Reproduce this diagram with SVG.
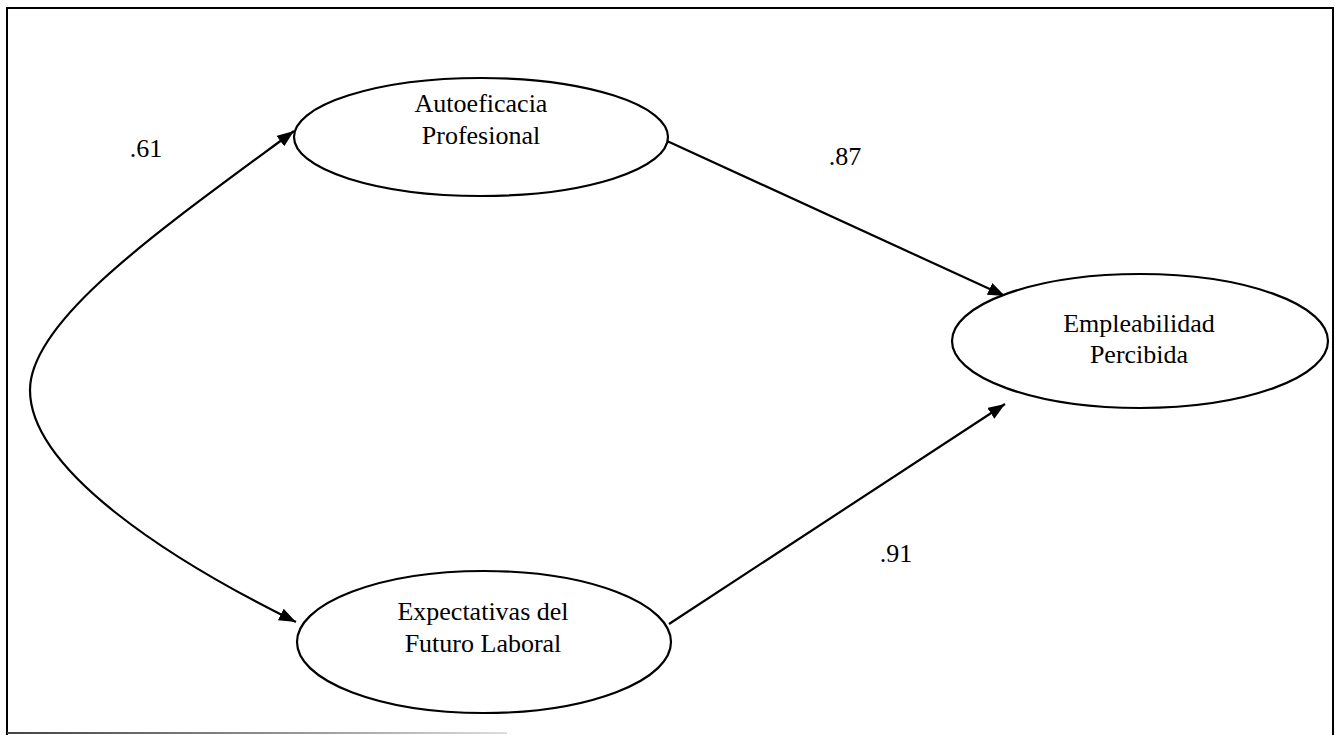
<svg xmlns="http://www.w3.org/2000/svg" width="1335" height="735" viewBox="0 0 1335 735">
<style>
.node ellipse{fill:#fff;stroke:#000;stroke-width:2.2}
.lbl{font-family:'Liberation Serif','Times New Roman',Tinos,'DejaVu Serif',serif;font-size:26px;fill:#000;text-anchor:middle}
.conn{fill:none;stroke:#000;stroke-width:2.2}
.frame{fill:none;stroke:#000;stroke-width:2}
</style>
<defs>
<marker id="ah" viewBox="0 0 17 13" refX="17" refY="6.5" markerWidth="17" markerHeight="13" markerUnits="userSpaceOnUse" orient="auto">
<path d="M0,0 L17,6.5 L0,13 Z" fill="#000"/>
</marker>
<marker id="ahs" viewBox="0 0 17 13" refX="17" refY="6.5" markerWidth="17" markerHeight="13" markerUnits="userSpaceOnUse" orient="auto-start-reverse">
<path d="M0,0 L17,6.5 L0,13 Z" fill="#000"/>
</marker>
<linearGradient id="bg" x1="0" y1="0" x2="1" y2="0">
<stop offset="0" stop-color="#444"/>
<stop offset="0.6" stop-color="#999"/>
<stop offset="1" stop-color="#ddd"/>
</linearGradient>
</defs>
<rect width="1335" height="735" fill="#fff"/>
<g id="frame">
<polyline class="frame" points="7,735 7,8 1333,8 1333,735"/>
<rect x="7" y="732" width="500" height="2" fill="url(#bg)"/>
</g>
<g id="connectors">
<line class="conn" x1="667" y1="141" x2="1005" y2="296" marker-end="url(#ah)"/>
<line class="conn" x1="669" y1="624" x2="1005" y2="404" marker-end="url(#ah)"/>
<path class="conn" d="M294,131 C160,230 30,320 30,390 C30,470 170,560 296,622" marker-start="url(#ahs)" marker-end="url(#ah)"/>
</g>
<g id="labels" font-family="'Liberation Serif', serif">
<text class="lbl" x="146" y="157">.61</text>
<text class="lbl" x="845" y="165">.87</text>
<text class="lbl" x="896" y="562">.91</text>
</g>
<g id="node-autoeficacia" class="node" font-family="'Liberation Serif', serif">
<ellipse cx="481" cy="137" rx="187" ry="59"/>
<text class="lbl" x="481" y="112">Autoeficacia</text>
<text class="lbl" x="481" y="144">Profesional</text>
</g>
<g id="node-empleabilidad" class="node" font-family="'Liberation Serif', serif">
<ellipse cx="1140" cy="341" rx="188" ry="67"/>
<text class="lbl" x="1139" y="332">Empleabilidad</text>
<text class="lbl" x="1139" y="363">Percibida</text>
</g>
<g id="node-expectativas" class="node" font-family="'Liberation Serif', serif">
<ellipse cx="484" cy="642" rx="187" ry="71"/>
<text class="lbl" x="483" y="620">Expectativas del</text>
<text class="lbl" x="483" y="652">Futuro Laboral</text>
</g>
</svg>
